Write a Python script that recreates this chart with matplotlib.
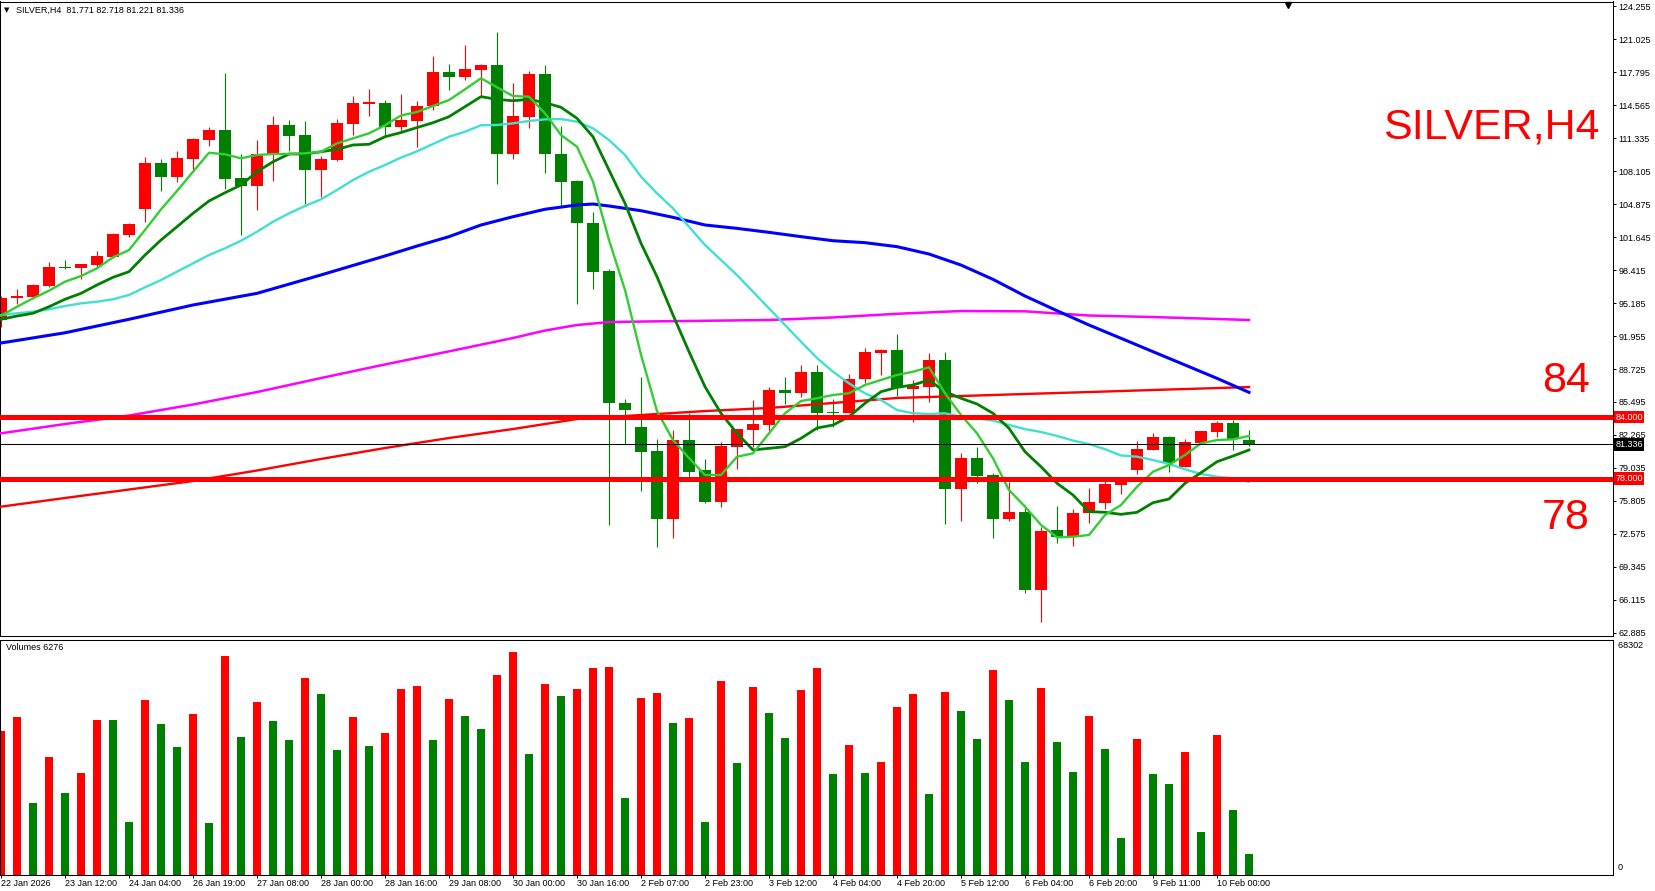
import numpy as np
import matplotlib.pyplot as plt
import matplotlib.transforms as mtransforms

plt.rcParams['font.family'] = ['Liberation Sans', 'DejaVu Sans']

W, H = 1656, 891

# ---- data (SILVER, H4) ----
dates = ['22 Jan 2026', '23 Jan 12:00', '24 Jan 04:00', '26 Jan 19:00', '27 Jan 08:00',
         '28 Jan 00:00', '28 Jan 16:00', '29 Jan 08:00', '30 Jan 00:00', '30 Jan 16:00',
         '2 Feb 07:00', '2 Feb 23:00', '3 Feb 12:00', '4 Feb 04:00', '4 Feb 20:00',
         '5 Feb 12:00', '6 Feb 04:00', '6 Feb 20:00', '9 Feb 11:00', '10 Feb 00:00']
date_pos = list(range(0, 80, 4))

opens = [93.52, 95.70, 95.80, 96.85, 98.68, 98.64, 98.90, 99.72, 101.84, 104.39,
         108.89, 107.52, 109.31, 111.17, 112.12, 107.39, 106.67, 109.77, 112.61, 111.63,
         108.20, 109.18, 112.70, 114.70, 114.76, 112.44, 113.03, 114.47, 117.79, 117.33,
         117.99, 118.48, 109.74, 113.42, 117.60, 109.77, 107.13, 103.04, 98.35, 85.43,
         83.07, 80.70, 74.07, 81.78, 78.84, 75.74, 81.12, 82.75, 83.24, 86.67,
         86.41, 88.43, 84.50, 84.45, 87.72, 90.32, 90.60, 86.80, 86.99, 89.61,
         76.98, 80.01, 78.35, 74.00, 74.76, 67.09, 72.97, 72.25, 74.60, 75.64,
         77.40, 78.87, 80.80, 82.10, 79.16, 81.51, 82.59, 83.47, 81.771]
highs = [95.85, 96.55, 97.00, 99.20, 99.40, 99.05, 100.30, 102.07, 103.04, 109.50,
         109.31, 110.06, 111.37, 112.41, 117.73, 109.74, 111.14, 113.49, 113.10, 113.00,
         109.57, 113.20, 115.44, 116.13, 115.05, 115.64, 114.96, 119.36, 118.58, 120.44,
         118.60, 121.70, 116.72, 117.89, 118.48, 112.51, 107.20, 104.09, 98.51, 85.79,
         87.91, 81.87, 82.75, 84.39, 79.92, 81.55, 82.90, 85.69, 86.93, 87.91,
         89.15, 89.09, 85.79, 88.24, 90.75, 90.65, 92.15, 87.65, 90.32, 90.42,
         80.47, 81.12, 78.50, 77.69, 75.41, 73.29, 75.32, 75.05, 77.08, 77.79,
         78.10, 81.65, 82.43, 82.20, 81.84, 82.70, 83.66, 83.73, 82.718]
lows = [92.84, 95.09, 95.75, 96.75, 98.50, 97.50, 98.74, 99.59, 101.65, 103.14,
        106.18, 107.03, 108.20, 110.58, 106.37, 101.87, 104.29, 107.13, 110.06, 104.87,
        105.53, 109.11, 111.63, 113.49, 111.46, 112.05, 110.48, 114.08, 116.03, 117.01,
        115.38, 106.80, 109.25, 112.34, 107.94, 104.61, 95.06, 96.59, 73.46, 81.35,
        76.81, 71.33, 72.21, 78.18, 75.64, 75.25, 78.91, 81.06, 82.36, 85.30,
        86.00, 82.75, 83.08, 84.40, 87.33, 88.14, 86.08, 83.57, 85.53, 73.53,
        73.88, 77.60, 72.21, 73.88, 66.77, 63.99, 71.67, 71.43, 73.68, 75.05,
        76.49, 78.45, 80.75, 78.67, 79.10, 81.45, 82.04, 80.80, 81.221]
closes = [95.67, 95.87, 96.95, 98.74, 98.60, 99.00, 99.80, 101.94, 102.92, 108.92,
          107.52, 109.38, 111.24, 112.12, 107.32, 106.67, 109.77, 112.61, 111.53, 108.20,
          109.25, 112.80, 114.76, 114.80, 112.44, 113.10, 114.47, 117.82, 117.33, 118.09,
          118.48, 109.74, 113.49, 117.60, 109.80, 107.06, 102.98, 98.25, 85.37, 84.71,
          80.60, 74.07, 81.78, 78.64, 75.74, 81.22, 82.85, 83.34, 86.67, 86.41,
          88.43, 84.45, 84.40, 87.75, 90.42, 90.60, 86.84, 87.06, 89.61, 76.98,
          80.01, 78.25, 74.07, 74.76, 67.09, 72.87, 72.25, 74.66, 75.74, 77.47,
          78.03, 80.89, 82.10, 79.55, 81.55, 82.66, 83.47, 81.90, 81.336]

volumes = [42960, 47130, 21480, 35200, 24460, 30430, 46240, 46200, 15810, 52200,
           45040, 38180, 48030, 15510, 65330, 41170, 51610, 45940, 40270, 58770,
           53990, 37290, 47130, 38480, 42360, 55480, 56380, 40270, 52500, 47430,
           43550, 59660, 66520, 36090, 56980, 53400, 55480, 61750, 62050, 22970,
           52800, 54290, 45340, 46830, 15810, 57870, 33410, 56080, 48330, 40870,
           55190, 61750, 30130, 38780, 30430, 33710, 50110, 53990, 24160, 54590,
           48920, 40570, 61150, 52200, 33710, 55780, 39670, 30730, 47430, 37590,
           11040, 40570, 30130, 27150, 36690, 12830, 41760, 19390, 6276]
vol_up = list('RRGRGRRGGR' 'GGRGRGRGGR' 'GGRGRRRGRG' 'GRRGRGRRRG'
              'RRGRGRGRGG' 'RRGRGRRRGR' 'GGRGGRGGRG' 'GRGGRGRGG')

ma_fast = [93.94, 94.82, 95.64, 96.39, 97.27, 97.83, 98.58, 99.66, 100.37, 102.33,
           104.35, 106.15, 108.03, 109.89, 109.74, 109.35, 109.67, 109.77, 109.77, 109.84,
           109.99, 110.81, 111.30, 111.79, 112.58, 113.54, 113.88, 114.47, 115.05, 116.10,
           117.18, 116.30, 115.44, 115.38, 113.75, 111.63, 110.48, 107.06, 101.35, 96.46,
           90.12, 84.61, 81.77, 80.01, 78.35, 78.35, 80.14, 80.47, 82.43, 84.39,
           85.59, 85.86, 86.18, 86.35, 87.16, 87.65, 88.14, 88.46, 88.89, 86.35,
           84.22, 82.43, 79.98, 76.88, 75.25, 73.46, 72.25, 72.31, 72.48, 74.43,
           75.41, 77.20, 78.67, 79.33, 80.31, 81.45, 81.77, 81.84, 82.17]
ma_mid = [93.59, 93.91, 94.18, 94.82, 95.55, 96.13, 96.95, 97.70, 98.25, 99.88,
          101.35, 102.65, 103.96, 105.17, 105.98, 106.73, 108.03, 109.01, 109.77, 109.77,
          109.99, 110.23, 110.65, 110.72, 111.46, 111.87, 112.36, 112.83, 113.42, 114.40,
          115.38, 115.12, 114.98, 115.12, 114.79, 114.34, 113.26, 111.46, 108.20, 104.94,
          101.03, 97.76, 94.01, 90.42, 86.99, 84.39, 82.43, 80.80, 80.96, 81.12,
          81.94, 82.95, 83.24, 84.06, 85.37, 86.50, 86.93, 87.16, 87.65, 86.50,
          85.86, 85.30, 84.39, 82.92, 80.63, 79.16, 77.54, 76.39, 74.76, 74.70,
          74.50, 74.70, 75.64, 76.00, 77.54, 78.57, 79.65, 80.21, 80.80]
ma_slow = [94.01, 94.18, 94.33, 94.57, 94.89, 95.15, 95.31, 95.55, 95.97, 96.72,
           97.43, 98.25, 99.07, 99.88, 100.54, 101.28, 102.16, 103.14, 103.96, 104.68,
           105.33, 106.24, 107.22, 108.03, 108.69, 109.42, 110.03, 110.75, 111.46, 111.95,
           112.58, 112.61, 112.77, 113.00, 113.16, 113.19, 112.93, 112.28, 111.14, 109.67,
           107.55, 105.92, 104.45, 102.65, 100.86, 99.39, 97.92, 96.29, 94.66, 93.03,
           91.40, 89.80, 88.46, 87.32, 86.34, 85.69, 84.71, 84.39, 84.32, 84.39,
           84.05, 83.90, 83.68, 83.25, 82.84, 82.56, 82.18, 81.72, 81.37, 80.88,
           80.26, 80.14, 79.82, 79.43, 78.91, 78.45, 78.18, 78.03, 77.69]

blue_pos = [0, 4, 8, 12, 16, 20, 24, 26, 28, 30, 32, 34, 36, 37, 38, 40, 42, 44, 46, 48,
            50, 52, 54, 56, 58, 60, 62, 64, 66, 68, 70, 72, 74, 76, 78]
blue_val = [91.27, 92.27, 93.59, 94.99, 96.13, 97.93, 99.79, 100.76, 101.68, 102.82,
            103.63, 104.36, 104.78, 104.87, 104.68, 104.22, 103.57, 102.82, 102.49, 102.10,
            101.68, 101.28, 101.09, 100.70, 99.98, 98.90, 97.50, 95.87, 94.43, 93.03,
            91.73, 90.42, 89.12, 87.81, 86.44]
mag_pos = [0, 4, 8, 12, 16, 20, 24, 28, 32, 34, 36, 38, 40, 48, 52, 56, 60, 64, 68, 72, 76, 78]
mag_val = [82.43, 83.34, 84.17, 85.25, 86.47, 87.84, 89.17, 90.45, 91.76, 92.49, 93.03,
           93.32, 93.37, 93.52, 93.77, 94.13, 94.40, 94.37, 93.96, 93.81, 93.62, 93.52]
red_pos = [0, 4, 8, 12, 16, 20, 24, 28, 32, 36, 40, 44, 48, 52, 56, 60, 64, 68, 72, 76, 78]
red_val = [75.25, 76.10, 76.93, 77.76, 78.79, 79.92, 80.99, 81.97, 82.85, 83.83, 84.22,
           84.61, 84.91, 85.40, 85.89, 86.08, 86.28, 86.47, 86.67, 86.86, 86.96]

levels = [84.0, 78.0]
last_price = 81.336
price_ticks = [124.255, 121.025, 117.795, 114.565, 111.335, 108.105, 104.875, 101.645,
               98.415, 95.185, 91.955, 88.725, 85.495, 82.265, 79.035, 75.805, 72.575,
               69.345, 66.115, 62.885]
vol_label = 68302

RED = '#ff0000'
GREEN = '#008000'


def rect(x0, y0, x1, y1):
    return [x0 / W, 1 - y1 / H, (x1 - x0) / W, (y1 - y0) / H]


fig = plt.figure(figsize=(W / 100, H / 100), dpi=100)
ax = fig.add_axes(rect(0.5, 1.5, 1613, 636))
axv = fig.add_axes(rect(0.5, 640, 1613, 875))

idx = np.arange(len(opens))
o = np.array(opens); c = np.array(closes)
hi = np.array(highs); lo = np.array(lows)
col = np.where(c >= o, RED, GREEN)

# candles
ax.vlines(idx, lo, hi, colors=col, lw=0.8, zorder=2)
body = np.maximum(np.abs(c - o), 0.14)
ax.bar(idx, body, bottom=np.minimum(o, c), width=0.69, color=col, lw=0, zorder=2)

# moving averages
ax.plot(mag_pos, mag_val, color='#ff00ff', lw=1.8, zorder=3)
ax.plot(red_pos, red_val, color=RED, lw=1.7, zorder=3)
ax.plot(blue_pos, blue_val, color='#0000ff', lw=2.2, zorder=3)
ax.plot(idx, ma_slow, color='#40e0d0', lw=1.7, zorder=3)
ax.plot(idx, ma_mid, color=GREEN, lw=2.0, zorder=3)
ax.plot(idx, ma_fast, color='#32cd32', lw=1.7, zorder=3)

for lv in levels:
    ax.axhline(lv, color=RED, lw=3.6, zorder=4)
ax.axhline(last_price, color='black', lw=0.75, zorder=4)

xlim = (-0.5 / 16, 1612 / 16)
ax.set_xlim(xlim)
ax.set_ylim(62.885 - 3 * 0.097879, 124.255 + 4.5 * 0.097879)
ax.set_xticks([])
ax.yaxis.tick_right()
ax.set_yticks(price_ticks)
ax.set_yticklabels([f'{t:.3f}' for t in price_ticks])
ax.tick_params(axis='y', length=2.2, width=0.7, pad=1.5, labelsize=6.5)

trans = mtransforms.blended_transform_factory(ax.transAxes, ax.transData)
for lv in levels:
    ax.annotate(f'{lv:.3f}', xy=(1, lv), xycoords=trans, xytext=(1.6, 0),
                textcoords='offset points', ha='left', va='center', fontsize=6.5,
                color='white', bbox=dict(boxstyle='square,pad=0.18', fc=RED, ec='none'),
                annotation_clip=False)
ax.annotate(f'{last_price:.3f}', xy=(1, last_price), xycoords=trans, xytext=(1.6, 0),
            textcoords='offset points', ha='left', va='center', fontsize=6.5,
            color='white', bbox=dict(boxstyle='square,pad=0.18', fc='black', ec='none'),
            annotation_clip=False)

# shift marker on top border
tb = mtransforms.blended_transform_factory(ax.transData, ax.transAxes)
ax.plot([(1288 - 1) / 16], [1 - 3.5 / 634.5], marker='v', ms=4.5, color='black',
        transform=tb, clip_on=False)

# volumes
axv.bar(idx, volumes, width=0.55, color=[RED if u == 'R' else GREEN for u in vol_up], lw=0)
axv.set_xlim(xlim)
axv.set_ylim(0, 70100)
axv.set_yticks([])
axv.set_xticks(date_pos)
axv.set_xticklabels(dates, ha='left', fontsize=6.5)
axv.tick_params(axis='x', length=2.2, width=0.7, pad=1.0)
axv.text(1.0, (875 - 645) / 235, f'  {vol_label}', transform=axv.transAxes,
         ha='left', va='center', fontsize=6.5)
axv.text(1.0, (875 - 868) / 235, '  0', transform=axv.transAxes,
         ha='left', va='center', fontsize=6.5)

for a in (ax, axv):
    for s in a.spines.values():
        s.set_linewidth(0.75)
        s.set_color('black')

# texts
fig.text(4 / W, 1 - 10 / H, '\u25bc', fontsize=5, family='DejaVu Sans', va='center')
fig.text(16 / W, 1 - 10 / H, 'SILVER,H4  81.771 82.718 81.221 81.336', fontsize=6.5, va='center')
fig.text(6 / W, 1 - 647 / H, 'Volumes 6276', fontsize=6.5, va='center')
fig.text(1600 / W, 1 - 138 / H, 'SILVER,H4', color=RED, fontsize=31, ha='right', va='baseline')
fig.text(1590 / W, 1 - 392 / H, '84', color=RED, fontsize=31, ha='right', va='baseline')
fig.text(1590 / W, 1 - 529 / H, '78', color=RED, fontsize=31, ha='right', va='baseline')

fig.savefig('out.png', dpi=100)
